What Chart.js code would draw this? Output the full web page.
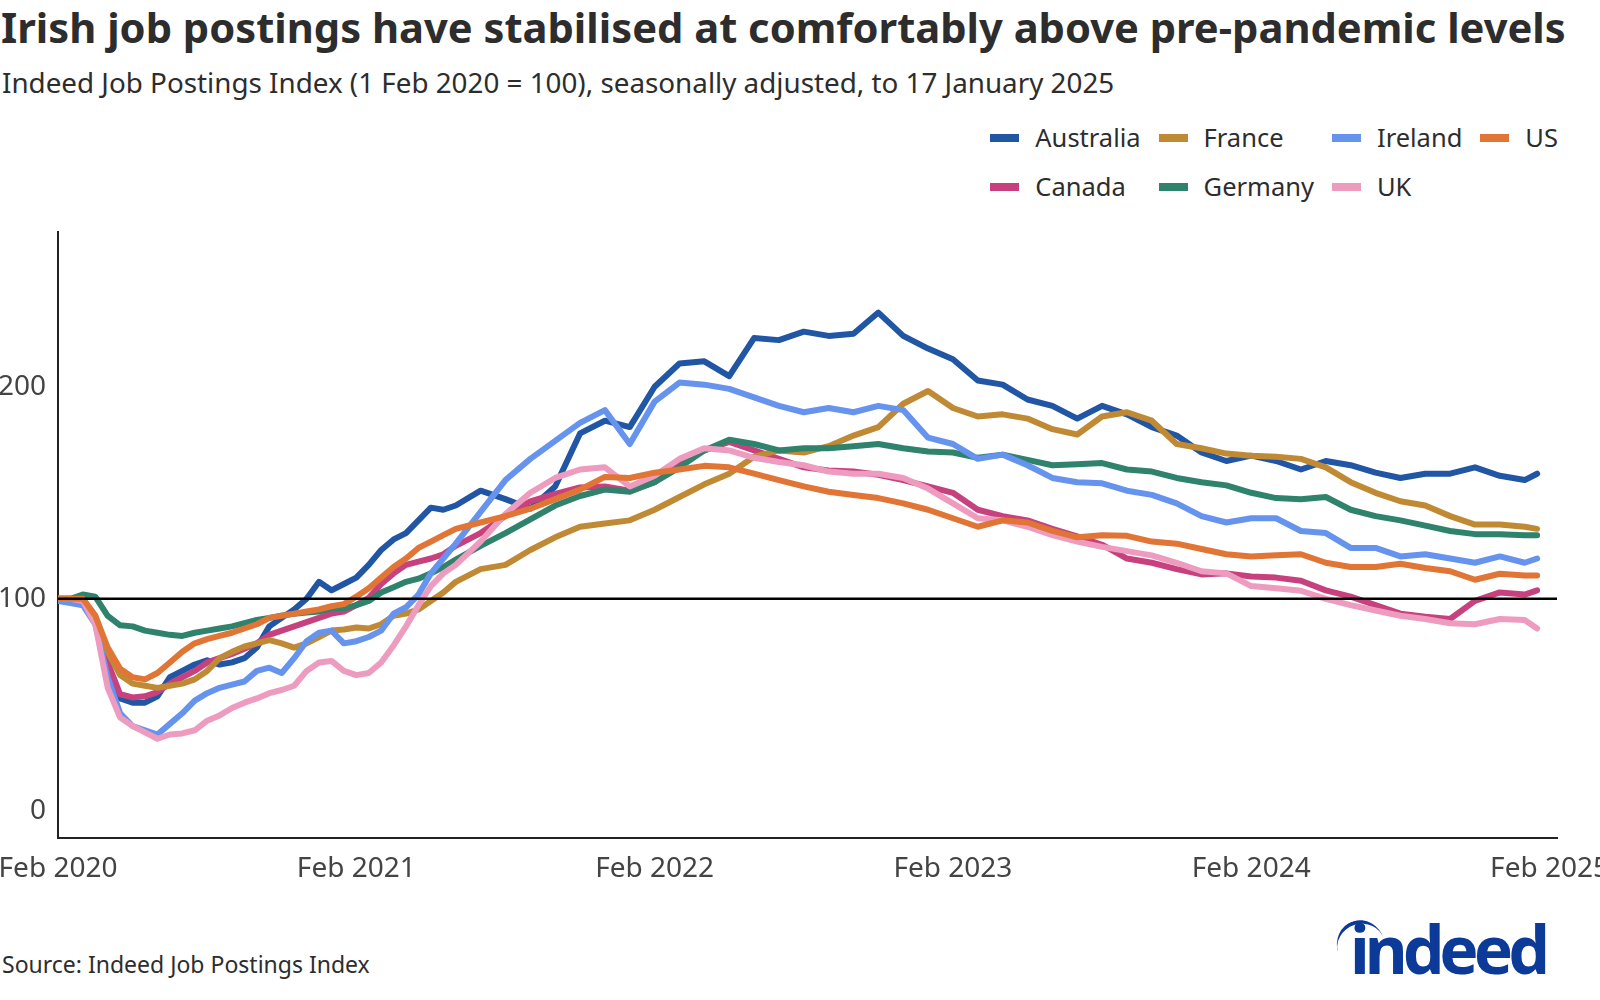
<!DOCTYPE html>
<html>
<head>
<meta charset="utf-8">
<title>Irish job postings</title>
<script src="https://cdn.jsdelivr.net/npm/chart.js@4.4.1/dist/chart.umd.min.js"></script>
<style>
  html, body { margin: 0; padding: 0; background: #fff; }
  body {
    width: 1600px; height: 1000px; position: relative; overflow: hidden;
    font-family: 'Noto Sans', sans-serif; font-stretch: semi-condensed; color: #2d2d2d;
  }
  #title { position: absolute; left: 1px; top: 6px; font-size: 41.7px; font-weight: 700; line-height: 1; white-space: nowrap; }
  #subtitle { position: absolute; left: 2px; top: 69px; font-size: 27.8px; line-height: 1; white-space: nowrap; }
  #legend {
    position: absolute; right: 42px; top: 122px;
    display: grid; grid-template-columns: repeat(4, auto); column-gap: 18px; row-gap: 18px;
    font-size: 25.5px; line-height: 1.22;
  }
  .item { display: flex; align-items: center; white-space: nowrap; }
  .swatch { width: 29px; height: 8px; margin-right: 16px; }
  #chartBox { position: absolute; left: 0; top: 200px; }
  #source { position: absolute; left: 2px; top: 953px; font-size: 23px; line-height: 1; white-space: nowrap; }
  #logo {
    position: absolute; left: 1350px; top: 915px; font-size: 66px; font-weight: 700;
    font-stretch: normal; letter-spacing: -5px; color: #0b3a99; line-height: 1;
  }
  #logo .arc {
    position: absolute; left: -13px; top: 5px; width: 48px; height: 48px;
    border-top: 4px solid #0b3a99; border-radius: 50%; transform: rotate(-18deg);
  }
</style>
</head>
<body>
<div id="title">Irish job postings have stabilised at comfortably above pre-pandemic levels</div>
<div id="subtitle">Indeed Job Postings Index (1 Feb 2020 = 100), seasonally adjusted, to 17 January 2025</div>
<div id="legend"></div>
<div id="chartBox"><canvas id="postings" width="1614" height="700"></canvas></div>
<div id="source">Source: Indeed Job Postings Index</div>
<div id="logo"><span class="arc"></span>indeed</div>

<script>
// months since 1 Feb 2020 (half-monthly through the 2020 slump, monthly after)
const months = [
  0, 0.5, 1, 1.5, 2, 2.5, 3, 3.5, 4, 4.5, 5, 5.5, 6, 6.5, 7, 7.5, 8, 8.5, 9, 9.5,
  10, 10.5, 11, 11.5, 12, 12.5, 13, 13.5, 14, 14.5, 15, 15.5, 16,
  17, 18, 19, 20, 21, 22, 23, 24, 25, 26, 27, 28, 29, 30, 31, 32, 33, 34, 35, 36,
  37, 38, 39, 40, 41, 42, 43, 44, 45, 46, 47, 48, 49, 50, 51, 52, 53, 54, 55, 56,
  57, 58, 59, 59.5
];

const xTickValues = [0, 12, 24, 36, 48, 60];
const xTickLabels = ['Feb 2020', 'Feb 2021', 'Feb 2022', 'Feb 2023', 'Feb 2024', 'Feb 2025'];
const xMax = 60.3;
const yTickValues = [0, 100, 200];
const baseline = 100;

const australia = [
  100, 99, 100, 90, 68, 53, 51, 51, 54, 63, 66, 69, 71, 69, 70, 72, 77, 87, 91, 95,
  100, 108, 104, 107, 110, 116, 123, 128, 131, 137, 143, 142, 144,
  151, 147, 142.5, 153, 178, 184, 181, 200, 211, 212, 205, 223, 222, 226, 224, 225, 235, 224, 218, 213,
  203, 201, 194, 191, 185, 191, 187, 181, 177, 169, 165, 167.5, 165, 161, 165, 163, 159.5, 157, 159, 159,
  162, 158, 156, 159
];
const france = [
  100, 100, 100, 92, 75, 64, 60, 59, 58, 59, 60, 62, 66, 72, 75, 77.5, 79, 80.5, 79, 77,
  79, 82, 85, 85.5, 86.5, 86, 88, 92, 93, 95, 99, 103, 108,
  114, 116, 123, 129, 134, 135.5, 137, 142, 148, 154, 159, 167, 170, 169, 172, 177, 181, 192, 198, 190,
  186, 187, 185, 180, 177.5, 186, 188, 184, 173, 171, 168.5, 167.5, 167, 166, 162, 155, 150, 146, 144, 139,
  135, 135, 134, 133
];
const ireland = [
  99, 98, 97, 88, 63, 46, 40, 38, 36, 41, 46, 52, 55.5, 58, 59.5, 61, 66, 67.5, 65, 72,
  80, 84, 85, 79, 80, 82, 85, 93, 96, 102, 112, 119, 126,
  141, 156, 166, 174.5, 183, 189, 173, 193, 202, 201, 199, 195, 191, 188, 190, 188, 191, 189, 176, 173,
  166, 168, 163, 157, 155, 154.5, 151, 149, 145, 139, 136, 138, 138, 132, 131, 124, 124, 120, 121, 119,
  117, 120, 117, 119
];
const us = [
  100, 100, 100, 92, 77, 67, 63, 62, 65, 70, 75, 79, 81, 82.5, 84, 86, 88, 91, 92, 93,
  94, 95, 96.5, 97.5, 101, 105, 110, 115, 119, 124, 127, 130, 133,
  136, 139, 142.5, 147, 151.5, 157.5, 157, 159.5, 161, 162.7, 162, 159, 156, 153, 150.5, 149, 147.5, 145, 142, 138,
  134, 137, 136, 132, 129, 130, 129.7, 127, 126, 123.5, 121, 120, 120.5, 121, 117, 115, 115, 116.5, 114.5, 113,
  109, 111.8, 111, 111
];
const canada = [
  100, 100, 100, 90, 70, 55, 53.5, 54, 56, 60, 63, 66, 70, 72, 74, 76.5, 79, 83, 85, 87,
  89, 91, 93, 94, 97, 100.5, 107, 112, 116, 117.5, 119, 121, 125,
  131, 139, 146, 149.5, 152.5, 153, 151, 155, 165, 170, 174, 170, 166, 162, 160.5, 160, 158.5, 156, 153, 150,
  142, 139, 137, 133, 129.5, 125.5, 119, 117, 114, 111.5, 112, 110.5, 110, 108.5, 104, 101, 97, 93, 91.5, 90.5,
  99, 103, 102, 104
];
const germany = [
  100, 100, 102, 101, 92, 87.5, 87, 85, 84, 83, 82.5, 84, 85, 86, 87, 88.5, 90, 91, 92, 93,
  93.5, 94, 95.5, 95.5, 97, 99, 103, 105.5, 108, 109.5, 112, 115, 118.5,
  125, 131, 137.5, 144, 148.5, 151.5, 150.5, 155, 162, 170, 175, 173, 170, 171, 171, 172, 173, 171, 169.5, 169,
  166.5, 168, 165.5, 163, 163.5, 164, 161, 160, 157, 155, 153.5, 150, 147.5, 147, 148, 142, 139, 137, 134.5, 132,
  130.5, 130.5, 130, 130
];
const uk = [
  100, 100, 99, 88, 58, 44, 40, 37, 34, 36, 36.5, 38, 42.5, 45, 48.5, 51, 53, 55.5, 57, 59,
  66, 70, 70.7, 66, 64, 65, 70, 78, 87, 97, 106, 112, 116,
  127, 140, 150, 157, 161, 162, 153, 158, 166, 171, 170, 166.5, 164.5, 163, 160, 159, 159, 157, 152, 145,
  138, 137, 134, 130, 127, 124.5, 122.5, 120.5, 117, 113, 112, 106, 105, 103.8, 100, 97, 94.5, 92, 90.5, 88.5,
  88, 90.5, 90, 86
];

const COLORS = {
  Australia: '#2156a5',
  France: '#c08a35',
  Ireland: '#6693ee',
  US: '#e07535',
  Canada: '#c8417f',
  Germany: '#2f826c',
  UK: '#ee9bc0',
  axis: '#222',
  tick: '#444'
};

// legend order (as in the key) and drawing order (first = on top)
const legendOrder = ['Australia', 'France', 'Ireland', 'US', 'Canada', 'Germany', 'UK'];
const drawOrder = ['US', 'UK', 'Ireland', 'Germany', 'France', 'Canada', 'Australia'];
const seriesValues = { Australia: australia, France: france, Ireland: ireland, US: us, Canada: canada, Germany: germany, UK: uk };

const TICK_FONT = { family: "'Noto Sans'", size: 28 };

function toPoints(values) {
  return months.map((m, i) => ({ x: m, y: values[i] }));
}

function buildLegend() {
  const box = document.getElementById('legend');
  legendOrder.forEach(name => {
    const item = document.createElement('div');
    item.className = 'item';
    item.innerHTML = `<span class="swatch" style="background:${COLORS[name]}"></span>${name}`;
    box.appendChild(item);
  });
}

const datasets = legendOrder.map(name => ({
  label: name,
  data: toPoints(seriesValues[name]),
  borderColor: COLORS[name],
  borderWidth: 6,
  pointRadius: 0,
  tension: 0,
  borderJoinStyle: 'round',
  borderCapStyle: 'round',
  order: drawOrder.indexOf(name)
}));

datasets.push({
  label: 'baseline',
  data: [{ x: 0, y: baseline }, { x: xMax, y: baseline }],
  borderColor: '#000',
  borderWidth: 2.5,
  pointRadius: 0,
  order: -1
});

buildLegend();

new Chart(document.getElementById('postings'), {
  type: 'line',
  data: { datasets },
  options: {
    responsive: false,
    animation: false,
    events: [],
    layout: { padding: { top: 32, bottom: 0, left: 0, right: 57 } },
    plugins: { legend: { display: false }, tooltip: { enabled: false } },
    scales: {
      x: {
        type: 'linear', min: 0, max: xMax,
        grid: { display: false, drawTicks: false },
        border: { display: true, color: COLORS.axis, width: 2 },
        afterBuildTicks: axis => { axis.ticks = xTickValues.map(v => ({ value: v })); },
        // let the end labels run past the plot edges, as in the original
        afterFit: axis => { axis.paddingLeft = 0; axis.paddingRight = 0; },
        ticks: {
          color: COLORS.tick, font: TICK_FONT, padding: 14, maxRotation: 0, autoSkip: false,
          callback: v => xTickLabels[xTickValues.indexOf(v)]
        }
      },
      y: {
        min: -13, max: 273,
        grid: { display: false, drawTicks: false },
        border: { display: true, color: COLORS.axis, width: 2 },
        afterBuildTicks: axis => { axis.ticks = yTickValues.map(v => ({ value: v })); },
        afterFit: axis => { axis.width = 58; },
        ticks: { color: COLORS.tick, font: TICK_FONT, padding: 12 }
      }
    }
  }
});
</script>
</body>
</html>
